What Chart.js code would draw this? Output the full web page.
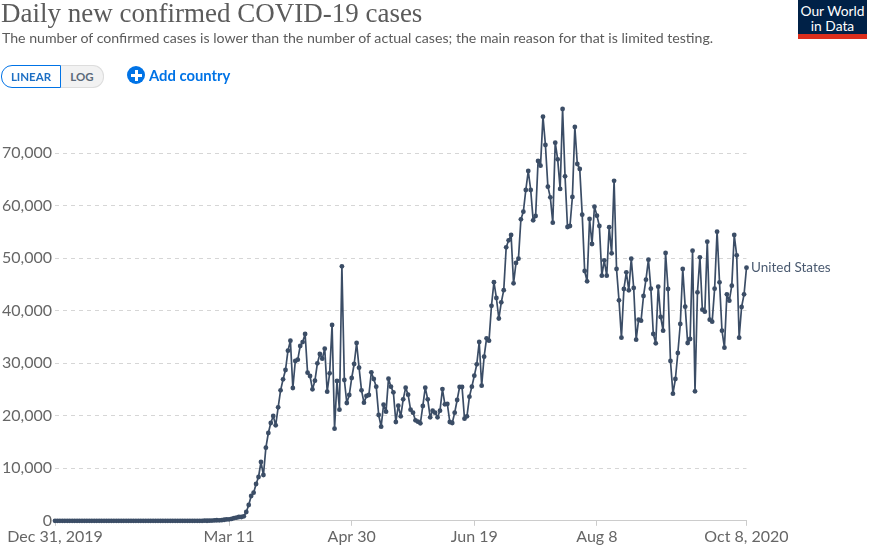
<!DOCTYPE html>
<html>
<head>
<meta charset="utf-8">
<title>Daily new confirmed COVID-19 cases</title>
<script src="https://cdn.jsdelivr.net/npm/chart.js@4"></script>
<style>
  html, body { margin: 0; padding: 0; background: #fff; }
  #page { position: relative; width: 870px; height: 548px; overflow: hidden; font-family: Lato, sans-serif; }
  #chart { position: absolute; left: 0; top: 0; }
  h1 { position: absolute; left: 1px; top: -2px; margin: 0; font: 400 27px "Liberation Serif", serif; color: #5b5b5b; white-space: nowrap; }
  h2 { position: absolute; left: 2px; top: 29px; margin: 0; font: 400 14.15px Lato, sans-serif; color: #5b5b5b; white-space: nowrap; }
  .btn { position: absolute; top: 65px; height: 23px; box-sizing: border-box; font: 700 11.5px/21px Lato, sans-serif; text-align: center; }
  #linear { left: 1px; width: 60px; color: #1d6fc4; border: 1px solid #0073e6; border-radius: 11px 0 0 11px; }
  #log { left: 61px; width: 43px; color: #5b6a7a; background: #f2f2f2; border: 1px solid #ddd; border-left: 0; border-radius: 0 11px 11px 0; }
  #addIcon { position: absolute; left: 127px; top: 66px; width: 18px; height: 18px; border-radius: 50%; background: #0073e6; }
  #addIcon::before { content: ""; position: absolute; left: 3.5px; top: 7.5px; width: 11px; height: 3px; background: #fff; }
  #addIcon::after { content: ""; position: absolute; left: 7.5px; top: 3.5px; width: 3px; height: 11px; background: #fff; }
  #addText { position: absolute; left: 149px; top: 65px; font: 700 14.8px/20px Lato, sans-serif; color: #0073e6; }
  #logo { position: absolute; left: 798px; top: 0; width: 69px; height: 31px; padding-top: 3px; background: #002147; border-bottom: 5px solid #dc2e1c; color: #fff; font: 400 13.8px/15px Lato, sans-serif; text-align: center; }
</style>
</head>
<body>
<div id="page">
  <canvas id="chart" width="870" height="548"></canvas>
  <h1>Daily new confirmed COVID-19 cases</h1>
  <h2>The number of confirmed cases is lower than the number of actual cases; the main reason for that is limited testing.</h2>
  <div class="btn" id="linear">LINEAR</div>
  <div class="btn" id="log">LOG</div>
  <div id="addIcon"></div>
  <div id="addText">Add country</div>
  <div id="logo">Our World<br>in Data</div>
</div>
<script>
const seriesName = "United States";
const xTickDays = [0, 71, 121, 171, 221, 282];
const xTickLabels = ["Dec 31, 2019", "Mar 11", "Apr 30", "Jun 19", "Aug 8", "Oct 8, 2020"];
const yTicks = [0, 10000, 20000, 30000, 40000, 50000, 60000, 70000];

// one value per day, Dec 31 2019 to Oct 8 2020
const newCases = [
  0, 0, 0, 0, 0, 0, 0, 0, 0, 0,
  0, 0, 0, 0, 0, 0, 0, 0, 0, 0,
  0, 0, 0, 0, 0, 0, 0, 0, 0, 0,
  0, 0, 0, 0, 0, 0, 0, 0, 0, 0,
  0, 0, 0, 0, 0, 0, 0, 0, 0, 0,
  0, 0, 0, 0, 0, 0, 0, 0, 0, 0,
  3, 20, 14, 22, 34, 74, 105, 95, 121, 200,
  271, 287, 351, 511, 600, 725, 725, 850, 1680, 3010,
  4725, 5360, 7010, 8345, 11200, 8725, 13930, 16725, 18630, 19960,
  18185, 21610, 24850, 26950, 28725, 32400, 34310, 25300, 30440, 30690,
  33300, 34050, 35580, 28215, 27580, 25040, 26690, 29990, 31770, 30885,
  32790, 24600, 28090, 37300, 17550, 26630, 21170, 48470, 26820, 22440,
  23960, 27200, 29870, 33870, 29170, 24850, 22500, 23770, 23960, 28280,
  27010, 25550, 20150, 17930, 22120, 20790, 27070, 25550, 24470, 18820,
  21930, 19900, 23140, 25360, 24030, 21170, 20600, 19140, 18880, 18570,
  21870, 25360, 23140, 19710, 20980, 20600, 19710, 20980, 25100, 22180,
  22250, 18820, 18630, 20600, 23010, 25490, 25490, 19450, 19900, 23640,
  25550, 27640, 29800, 34060, 25740, 31260, 34760, 34310, 40950, 45450,
  42440, 38530, 41615, 43930, 52090, 53425, 54440, 45235, 49110, 49930,
  57425, 58885, 63010, 66630, 63010, 57235, 58060, 68535, 67650, 76980,
  71585, 63650, 61615, 56790, 72030, 68855, 63205, 78440, 65615, 55965,
  56155, 61680, 75010, 67965, 67010, 58315, 47585, 45615, 57490, 52725,
  59840, 58125, 56155, 46695, 49615, 46695, 55930, 50950, 64750, 47965,
  42000, 34885, 44155, 47330, 43900, 49930, 44345, 34505, 38315, 38120,
  42820, 45930, 49740, 44220, 35580, 33805, 44600, 38820, 36220, 51010,
  44155, 30440, 24220, 27010, 31965, 37490, 47965, 40790, 33870, 34630,
  51455, 24660, 43520, 50185, 40220, 39835, 53170, 38315, 37930, 44220,
  55075, 45425, 36220, 32980, 43140, 41930, 44790, 54440, 50565, 34885,
  40725, 43140, 48220
];

const lineColor = "#3b4d66";
const textColor = "#666666";

// writes the country name next to the last point of the line
const endLabel = {
  id: "endLabel",
  afterDatasetsDraw(chart) {
    const last = chart.getDatasetMeta(0).data[newCases.length - 1];
    const ctx = chart.ctx;
    ctx.save();
    ctx.font = "13.5px Lato";
    ctx.fillStyle = "#4a5a70";
    ctx.textAlign = "left";
    ctx.textBaseline = "middle";
    ctx.fillText(seriesName, last.x + 4.5, last.y);
    ctx.restore();
  }
};

new Chart(document.getElementById("chart").getContext("2d"), {
  type: "line",
  plugins: [endLabel],
  data: {
    datasets: [{
      label: seriesName,
      data: newCases.map((v, i) => ({ x: i, y: v })),
      borderColor: lineColor,
      backgroundColor: lineColor,
      borderWidth: 1.7,
      borderJoinStyle: "round",
      pointRadius: 2.4,
      pointBorderWidth: 0,
      tension: 0,
      clip: false
    }]
  },
  options: {
    responsive: false,
    animation: false,
    events: [],
    layout: { autoPadding: false, padding: { left: 0, right: 123.5, top: 100.8, bottom: 0 } },
    plugins: { legend: { display: false }, tooltip: { enabled: false } },
    scales: {
      x: {
        type: "linear",
        min: 0,
        max: 282,
        afterBuildTicks(scale) { scale.ticks = xTickDays.map(value => ({ value })); },
        afterFit(scale) { scale.height = 27.2; },
        border: { display: true, color: "#cccccc", width: 1 },
        grid: { drawOnChartArea: false, drawTicks: true, tickLength: 5, color: "#cccccc" },
        ticks: {
          autoSkip: false,
          maxRotation: 0,
          padding: 1,
          color: textColor,
          font: { family: "Lato", size: 16 },
          callback: value => xTickLabels[xTickDays.indexOf(value)]
        }
      },
      y: {
        min: 0,
        max: 80000,
        afterBuildTicks(scale) { scale.ticks = yTicks.map(value => ({ value })); },
        afterFit(scale) { scale.width = 55; },
        border: { display: false, dash: [4, 4] },
        grid: {
          drawTicks: false,
          color: ctx => (ctx.tick && ctx.tick.value === 0 ? "rgba(0,0,0,0)" : "#d6d6d6"),
          lineWidth: 1
        },
        ticks: {
          padding: 3,
          color: textColor,
          font: { family: "Lato", size: 16 },
          callback: value => value.toLocaleString("en-US")
        }
      }
    }
  }
});
</script>
</body>
</html>
